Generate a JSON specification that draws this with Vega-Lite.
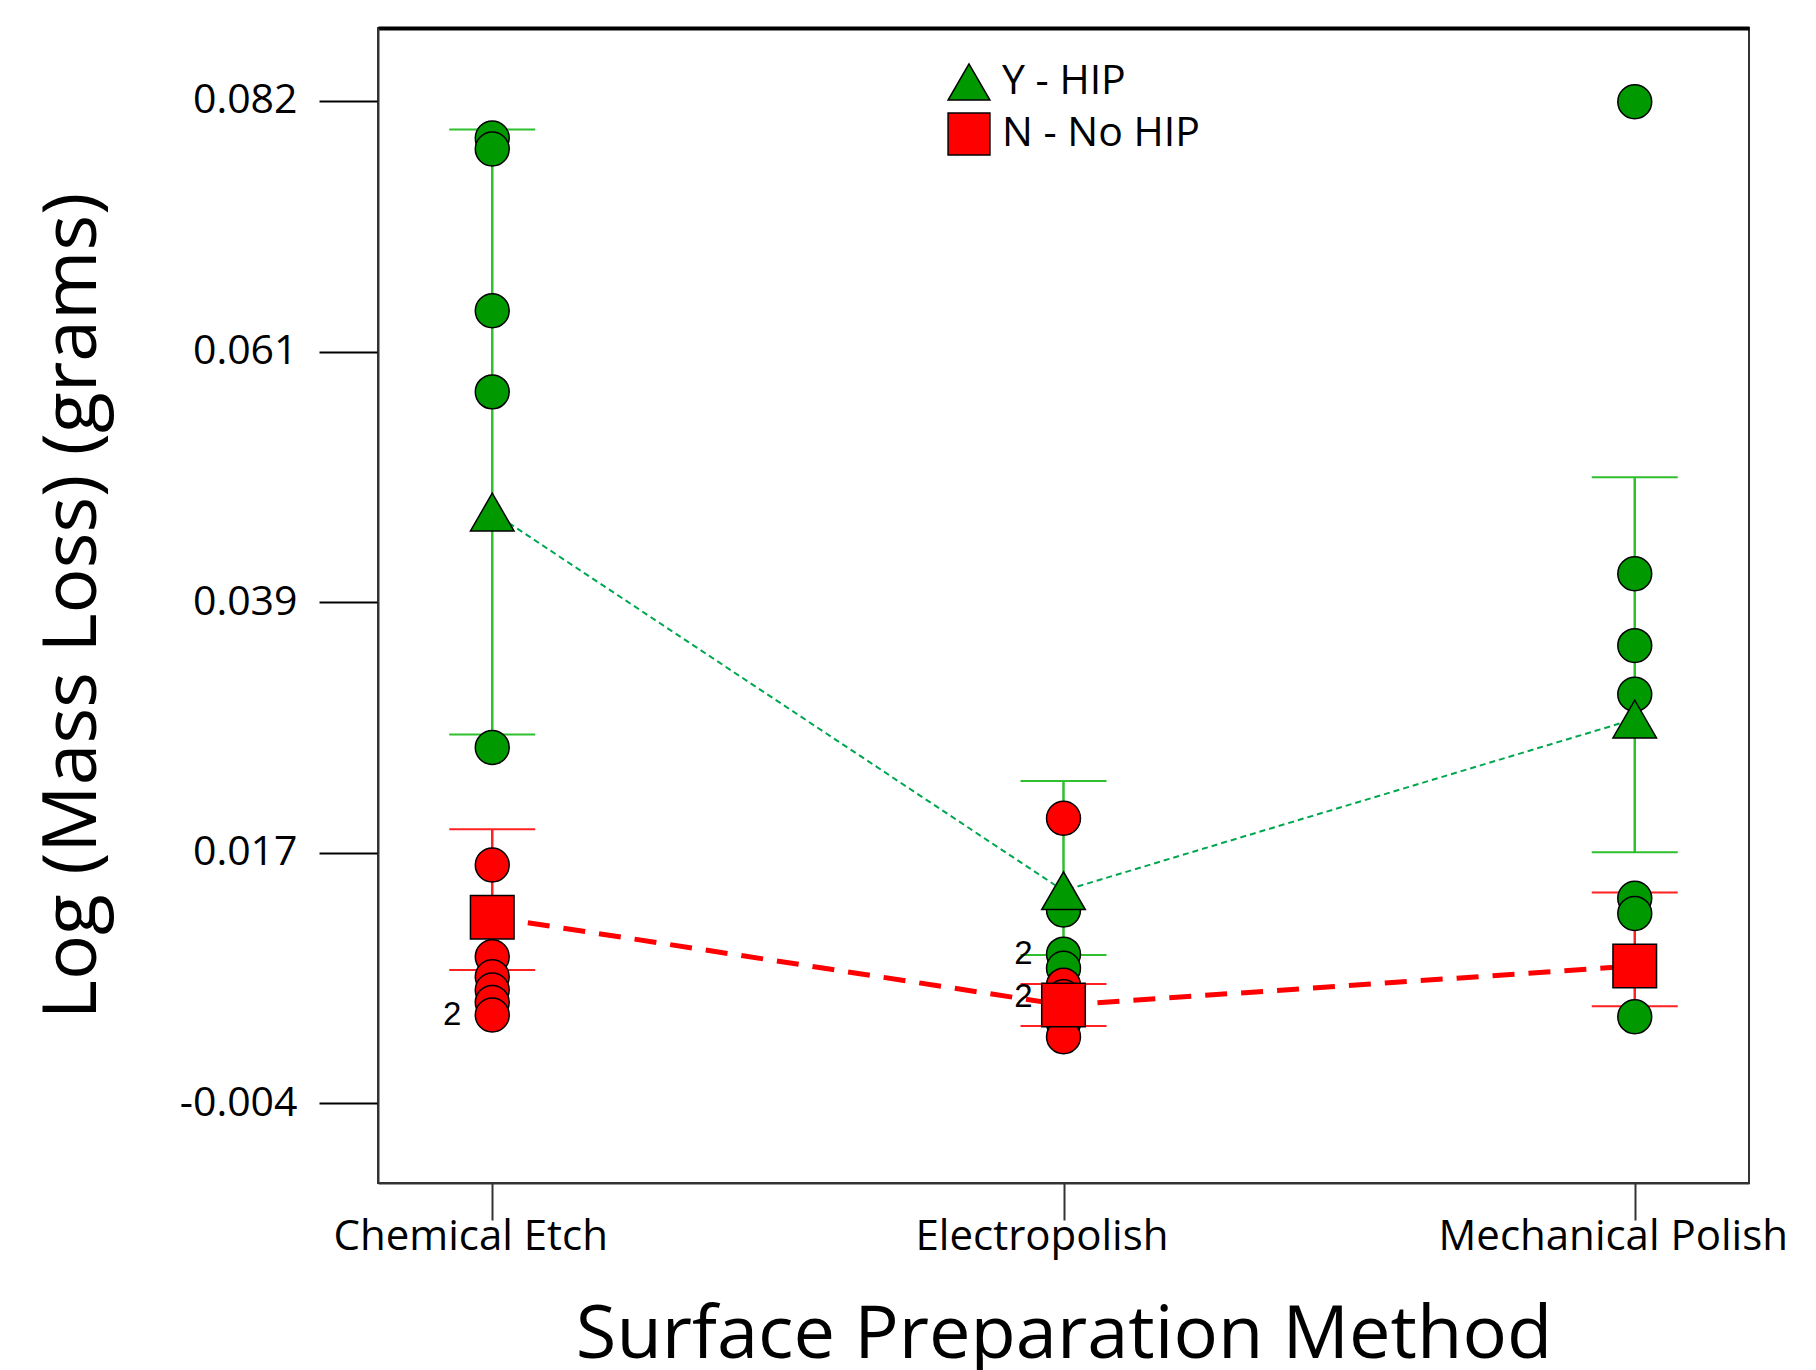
{
  "$schema": "https://vega.github.io/schema/vega-lite/v6.json",
  "width": 1371,
  "height": 1155,
  "autosize": {"type": "none"},
  "padding": {"left": 378, "top": 28, "right": 67, "bottom": 187},
  "background": "white",
  "config": {
    "view": {"stroke": "#333333", "strokeWidth": 2},
    "font": "Open Sans"
  },
  "datasets": {
    "points": [
      {"method": "Chemical Etch", "group": "Y - HIP", "value": 0.07883, "n": 1},
      {"method": "Chemical Etch", "group": "Y - HIP", "value": 0.07788, "n": 1},
      {"method": "Chemical Etch", "group": "Y - HIP", "value": 0.06400, "n": 1},
      {"method": "Chemical Etch", "group": "Y - HIP", "value": 0.05704, "n": 1},
      {"method": "Chemical Etch", "group": "Y - HIP", "value": 0.02653, "n": 1},
      {"method": "Electropolish", "group": "Y - HIP", "value": 0.01258, "n": 1},
      {"method": "Electropolish", "group": "Y - HIP", "value": 0.00880, "n": 2},
      {"method": "Electropolish", "group": "Y - HIP", "value": 0.00758, "n": 1},
      {"method": "Electropolish", "group": "Y - HIP", "value": 0.00289, "n": 1},
      {"method": "Mechanical Polish", "group": "Y - HIP", "value": 0.08193, "n": 1},
      {"method": "Mechanical Polish", "group": "Y - HIP", "value": 0.04144, "n": 1},
      {"method": "Mechanical Polish", "group": "Y - HIP", "value": 0.03527, "n": 1},
      {"method": "Mechanical Polish", "group": "Y - HIP", "value": 0.03110, "n": 1},
      {"method": "Mechanical Polish", "group": "Y - HIP", "value": 0.01359, "n": 1},
      {"method": "Mechanical Polish", "group": "Y - HIP", "value": 0.01228, "n": 1},
      {"method": "Mechanical Polish", "group": "Y - HIP", "value": 0.00342, "n": 1},
      {"method": "Chemical Etch", "group": "N - No HIP", "value": 0.01644, "n": 1},
      {"method": "Chemical Etch", "group": "N - No HIP", "value": 0.00857, "n": 1},
      {"method": "Chemical Etch", "group": "N - No HIP", "value": 0.00686, "n": 1},
      {"method": "Chemical Etch", "group": "N - No HIP", "value": 0.00572, "n": 1},
      {"method": "Chemical Etch", "group": "N - No HIP", "value": 0.00466, "n": 1},
      {"method": "Chemical Etch", "group": "N - No HIP", "value": 0.00357, "n": 2},
      {"method": "Electropolish", "group": "N - No HIP", "value": 0.02045, "n": 1},
      {"method": "Electropolish", "group": "N - No HIP", "value": 0.00614, "n": 1},
      {"method": "Electropolish", "group": "N - No HIP", "value": 0.00514, "n": 2},
      {"method": "Electropolish", "group": "N - No HIP", "value": 0.00400, "n": 1},
      {"method": "Electropolish", "group": "N - No HIP", "value": 0.00171, "n": 1}
    ],
    "summary": [
      {"method": "Chemical Etch", "group": "Y - HIP", "mean": 0.04673, "lo": 0.02764, "hi": 0.07955},
      {"method": "Electropolish", "group": "Y - HIP", "mean": 0.01424, "lo": 0.00872, "hi": 0.02365},
      {"method": "Mechanical Polish", "group": "Y - HIP", "mean": 0.02897, "lo": 0.01753, "hi": 0.04972},
      {"method": "Chemical Etch", "group": "N - No HIP", "mean": 0.01196, "lo": 0.00743, "hi": 0.01951},
      {"method": "Electropolish", "group": "N - No HIP", "mean": 0.00443, "lo": 0.00263, "hi": 0.00623},
      {"method": "Mechanical Polish", "group": "N - No HIP", "mean": 0.00778, "lo": 0.00433, "hi": 0.01409}
    ]
  },
  "resolve": {"axis": {"x": "independent"}},
  "layer": [
    {
      "data": {"name": "summary"},
      "mark": {"type": "rule", "strokeWidth": 2.5},
      "encoding": {
        "x": {
          "field": "method", "type": "nominal",
          "scale": {"type": "point", "padding": 0.2, "domain": ["Chemical Etch", "Electropolish", "Mechanical Polish"]},
          "axis": {
            "orient": "bottom",
            "title": "Surface Preparation Method",
            "titleFont": "Open Sans", "titleFontSize": 74, "titleFontWeight": "normal", "titleColor": "black", "titlePadding": 42,
            "labelFont": "Open Sans", "labelFontSize": 42, "labelColor": "black", "labelAngle": 0, "labelPadding": -4, "labelOffset": -22, "labelLimit": 0, "labelOverlap": false,
            "tickSize": 37, "tickColor": "#333333", "tickWidth": 2,
            "domainColor": "#333333", "domainWidth": 2, "grid": false
          }
        },
        "y": {
          "field": "lo", "type": "quantitative",
          "scale": {"domain": [-0.01084, 0.08826], "nice": false, "zero": false},
          "axis": {
            "title": "Log (Mass Loss) (grams)",
            "titleFont": "Open Sans", "titleFontSize": 75, "titleFontWeight": "normal", "titleColor": "black", "titlePadding": 68,
            "values": [-0.004, 0.0175, 0.039, 0.0605, 0.082],
            "labelExpr": "datum.value < 0 ? '-0.004' : datum.value < 0.02 ? '0.017' : datum.value < 0.05 ? '0.039' : datum.value < 0.07 ? '0.061' : '0.082'",
            "labelFont": "Open Sans", "labelFontSize": 41, "labelColor": "black", "labelPadding": 22,
            "tickSize": 59, "tickColor": "black", "tickWidth": 2,
            "domainColor": "#333333", "domainWidth": 2, "grid": false
          }
        },
        "y2": {"field": "hi"},
        "color": {
          "field": "group", "type": "nominal",
          "scale": {"domain": ["N - No HIP", "Y - HIP"], "range": ["#ff2020", "#2fbf2f"]},
          "legend": null
        }
      }
    },
    {
      "data": {"name": "summary"},
      "mark": {"type": "tick", "orient": "horizontal", "size": 86, "thickness": 2, "opacity": 1},
      "encoding": {
        "x": {"field": "method", "type": "nominal", "axis": null},
        "y": {"field": "hi", "type": "quantitative"},
        "color": {"field": "group", "type": "nominal", "legend": null}
      }
    },
    {
      "data": {"name": "summary"},
      "mark": {"type": "tick", "orient": "horizontal", "size": 86, "thickness": 2, "opacity": 1},
      "encoding": {
        "x": {"field": "method", "type": "nominal", "axis": null},
        "y": {"field": "lo", "type": "quantitative"},
        "color": {"field": "group", "type": "nominal", "legend": null}
      }
    },
    {
      "data": {"name": "summary"},
      "transform": [{"filter": "datum.group === 'Y - HIP'"}],
      "mark": {"type": "line", "stroke": "#00a650", "strokeWidth": 2, "strokeDash": [6, 4]},
      "encoding": {
        "x": {"field": "method", "type": "nominal", "axis": null},
        "y": {"field": "mean", "type": "quantitative"}
      }
    },
    {
      "data": {"name": "summary"},
      "transform": [{"filter": "datum.group === 'N - No HIP'"}],
      "mark": {"type": "line", "stroke": "#ff0000", "strokeWidth": 5, "strokeDash": [22, 14]},
      "encoding": {
        "x": {"field": "method", "type": "nominal", "axis": null},
        "y": {"field": "mean", "type": "quantitative"}
      }
    },
    {
      "data": {"name": "points"},
      "mark": {"type": "circle", "size": 1150, "stroke": "black", "strokeWidth": 1.5, "opacity": 1},
      "encoding": {
        "x": {"field": "method", "type": "nominal", "axis": null},
        "y": {"field": "value", "type": "quantitative"},
        "fill": {
          "field": "group", "type": "nominal",
          "scale": {"domain": ["Y - HIP", "N - No HIP"], "range": ["#009900", "#ff0000"]},
          "legend": {
            "orient": "none", "legendX": 569, "legendY": 32, "padding": 0, "title": null,
            "labelFont": "Open Sans", "labelFontSize": 41, "labelColor": "black", "labelOffset": 11, "labelLimit": 0,
            "symbolSize": 1750, "symbolStrokeColor": "black", "symbolStrokeWidth": 1.5, "rowPadding": 6
          }
        }
      }
    },
    {
      "data": {"name": "summary"},
      "mark": {"type": "point", "filled": true, "size": 1900, "stroke": "black", "strokeWidth": 1.5, "opacity": 1},
      "encoding": {
        "x": {"field": "method", "type": "nominal", "axis": null},
        "y": {"field": "mean", "type": "quantitative"},
        "fill": {"field": "group", "type": "nominal"},
        "shape": {
          "field": "group", "type": "nominal",
          "scale": {"domain": ["Y - HIP", "N - No HIP"], "range": ["triangle-up", "square"]},
          "legend": {
            "orient": "none", "legendX": 569, "legendY": 32, "padding": 0, "title": null,
            "labelFont": "Open Sans", "labelFontSize": 41, "labelColor": "black", "labelOffset": 11, "labelLimit": 0,
            "symbolSize": 1750, "symbolStrokeColor": "black", "symbolStrokeWidth": 1.5, "rowPadding": 6
          }
        }
      }
    },
    {
      "data": {"name": "points"},
      "transform": [{"filter": "datum.n === 2"}],
      "mark": {"type": "text", "font": "Liberation Sans", "fontSize": 33, "dx": -40, "baseline": "middle", "align": "center", "color": "black"},
      "encoding": {
        "x": {
          "field": "method", "type": "nominal",
          "axis": {"orient": "top", "labels": false, "ticks": false, "title": null, "domain": true, "domainColor": "black", "domainWidth": 4, "grid": false}
        },
        "y": {"field": "value", "type": "quantitative"},
        "text": {"field": "n", "type": "quantitative"}
      }
    }
  ]
}
